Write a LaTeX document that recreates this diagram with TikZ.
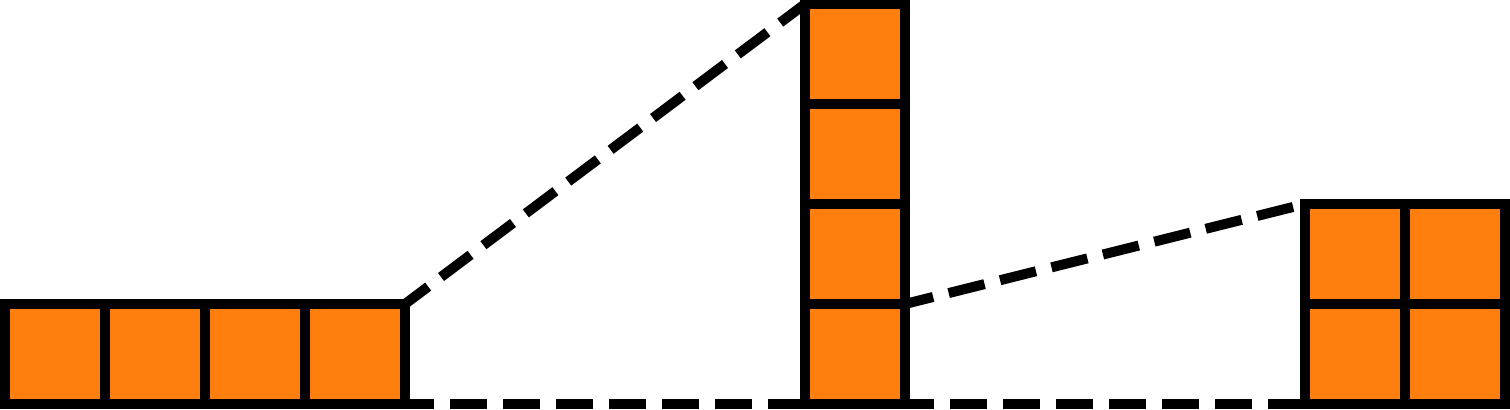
\documentclass[tikz,border=0pt]{standalone}
\usetikzlibrary{positioning}
\definecolor{clrOr}{RGB}{255,127,14}

\begin{document}
\begin{tikzpicture}[
  %% -- cell and link styles --
  cell/.style = {rectangle, draw=black, fill=clrOr, line width=1mm,
                 minimum size=1cm, inner sep=0pt, outer sep=0pt},
  link/.style = {draw=black, line width=1mm,
                 dash pattern=on 3.7mm off 1.6mm, dash phase=0.8mm},
]
\useasboundingbox (0,0) rectangle (15.1,4.09);

%% -- left row: 4 x 1 --
\foreach \i in {1,...,4}
  \node[cell] (l\i) at ({\i-0.45},0.55) {};

%% -- middle column: 1 x 4 --
\foreach \j in {1,...,4}
  \node[cell] (m\j) at (8.55,{\j-0.45}) {};

%% -- right block: 2 x 2 --
\foreach \i in {1,2}
  \foreach \j in {1,2}
    \node[cell] (r\i\j) at ({12.55+\i},{\j-0.45}) {};

%% -- dashed links --
\draw[link] (l4.north east) -- (m4.north west);
\draw[link] (l4.south east) -- (m1.south west);
\draw[link] (m1.north east) -- (r12.north west);
\draw[link] (m1.south east) -- (r11.south west);

\end{tikzpicture}
\end{document}
